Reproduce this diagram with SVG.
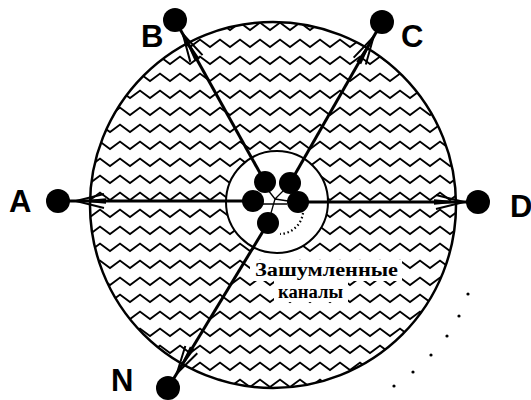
<svg xmlns="http://www.w3.org/2000/svg" width="531" height="400" viewBox="0 0 531 400">
<style>
.lbl{font-family:"Liberation Sans",Arial,sans-serif;font-weight:bold;font-size:31px;fill:#000}
.cap{font-family:"Liberation Serif","Times New Roman",serif;font-weight:bold;font-size:18px;fill:#000}
.dot{fill:#000}
.conn{stroke:#000;stroke-width:3;fill:none}
.thin{stroke:#000;stroke-width:1.3;fill:none}
</style>
<defs>
<pattern id="zz" patternUnits="userSpaceOnUse" x="0" y="4" width="20" height="17">
<path d="M-5,5.25 L0,1.5 L10,9 L20,1.5 L25,5.25" stroke="#000" stroke-width="1.8" fill="none" stroke-linejoin="miter"/>
</pattern>
<g id="ah">
<path d="M0,0 L-28,-7 M0,0 L-28,7" stroke="#000" stroke-width="2" fill="none"/>
<path d="M0,0 L-30,-2.8 L-30,2.8 Z" fill="#000"/>
</g>
</defs>
<rect width="531" height="400" fill="#fff"/>
<g id="noisy-region">
<path d="M90,205 A183,183 0 1,0 456,205 A183,183 0 1,0 90,205 Z M226,202 A51,51 0 1,0 328,202 A51,51 0 1,0 226,202 Z" fill="url(#zz)" fill-rule="evenodd"/>
<circle cx="273" cy="205" r="183" fill="none" stroke="#000" stroke-width="2.5"/>
<circle cx="277" cy="202" r="51" fill="none" stroke="#000" stroke-width="2"/>
<rect x="250" y="260" width="152" height="21" fill="#fff"/>
<rect x="274" y="281" width="74" height="21" fill="#fff"/>
<text class="cap" x="255" y="276" textLength="143" lengthAdjust="spacingAndGlyphs">Зашумленные</text>
<text class="cap" x="278" y="298" textLength="65" lengthAdjust="spacingAndGlyphs">каналы</text>
</g>
<g id="connectors">
<line class="conn" x1="253" y1="201" x2="58" y2="201"/>
<line class="conn" x1="298" y1="202" x2="478" y2="202"/>
<line class="conn" x1="265" y1="182" x2="175" y2="20"/>
<line class="conn" x1="290" y1="183" x2="382" y2="22"/>
<line class="conn" x1="268" y1="223" x2="168" y2="388"/>
<use href="#ah" transform="translate(76,201) rotate(180)"/>
<use href="#ah" transform="translate(464,202)"/>
<use href="#ah" transform="translate(182.8,34) rotate(-119.1)"/>
<use href="#ah" transform="translate(373.6,36.8) rotate(-60.3)"/>
<use href="#ah" transform="translate(176.8,373.5) rotate(121.2)"/>
<path class="thin" d="M275,199 L268,190 M275,199 L284,190 M262,204 L287,204 M275,199 L271,213 M275,199 L288,201"/>
<path d="M303,213 A24,24 0 0,1 280,234" fill="none" stroke="#000" stroke-width="2.2" stroke-dasharray="1.5,2.6"/>
</g>
<g id="center-nodes">
<circle class="dot" cx="265" cy="182" r="11"/>
<circle class="dot" cx="290" cy="183" r="11"/>
<circle class="dot" cx="253" cy="201" r="11"/>
<circle class="dot" cx="298" cy="202" r="11"/>
<circle class="dot" cx="268" cy="223" r="11"/>
</g>
<g id="node-A"><circle class="dot" cx="58" cy="201" r="12"/><text class="lbl" x="9" y="212">A</text></g>
<g id="node-B"><circle class="dot" cx="175" cy="20" r="12"/><text class="lbl" x="141" y="47">B</text></g>
<g id="node-C"><circle class="dot" cx="382" cy="22" r="12"/><text class="lbl" x="401" y="47">C</text></g>
<g id="node-D"><circle class="dot" cx="478" cy="202" r="12"/><text class="lbl" x="510" y="217">D</text></g>
<g id="node-N"><circle class="dot" cx="168" cy="388" r="12"/><text class="lbl" x="111" y="391">N</text></g>
<g id="dotted-arc">
<circle class="dot" cx="468" cy="294" r="1.6"/>
<circle class="dot" cx="459" cy="316" r="1.6"/>
<circle class="dot" cx="447" cy="336" r="1.6"/>
<circle class="dot" cx="431" cy="355" r="1.6"/>
<circle class="dot" cx="413" cy="372" r="1.6"/>
<circle class="dot" cx="394" cy="386" r="1.6"/>
</g>
</svg>
